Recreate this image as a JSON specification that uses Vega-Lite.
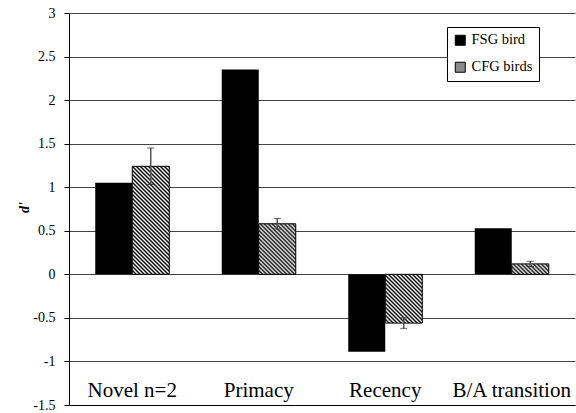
{
"$schema": "https://vega.github.io/schema/vega-lite/v6.json",
"width": 506, "height": 392,
"autosize": {"type": "none"},
"padding": {"left": 69, "top": 13, "right": 1, "bottom": 8},
"background": "#ffffff",
"view": {"stroke": null},
"config": {"font": "Liberation Serif", "text": {"font": "Liberation Serif"}},
"data": {"values": [
{"cond": "Novel n=2", "group": "FSG bird", "d": 1.05},
{"cond": "Novel n=2", "group": "CFG birds", "d": 1.24, "lo": 1.03, "hi": 1.45},
{"cond": "Primacy", "group": "FSG bird", "d": 2.35},
{"cond": "Primacy", "group": "CFG birds", "d": 0.58, "lo": 0.52, "hi": 0.64},
{"cond": "Recency", "group": "FSG bird", "d": -0.89},
{"cond": "Recency", "group": "CFG birds", "d": -0.56, "lo": -0.62, "hi": -0.5},
{"cond": "B/A transition", "group": "FSG bird", "d": 0.53},
{"cond": "B/A transition", "group": "CFG birds", "d": 0.12, "lo": 0.09, "hi": 0.15}
]},
"encoding": {
"x": {"field": "cond", "type": "nominal", "sort": ["Novel n=2", "Primacy", "Recency", "B/A transition"],
 "scale": {"paddingInner": 0.415, "paddingOuter": 0.2075},
 "axis": {"title": null, "orient": "bottom", "ticks": false, "tickSize": 0, "labelPadding": -9, "labelBaseline": "alphabetic", "labelAngle": 0, "labelFont": "Liberation Serif", "labelFontSize": 21, "labelColor": "#000", "domainColor": "#000", "domainWidth": 1}},
"xOffset": {"field": "group", "type": "nominal", "sort": ["FSG bird", "CFG birds"], "scale": {"paddingInner": 0, "paddingOuter": 0}}
},
"layer": [
{"mark": {"type": "bar"},
 "encoding": {
  "y": {"field": "d", "type": "quantitative", "title": "d'", "scale": {"domain": [-1.5, 3], "nice": false, "zero": true},
   "axis": {"title": "d'", "values": [-1.5, -1, -0.5, 0, 0.5, 1, 1.5, 2, 2.5, 3], "labelExpr": "toString(datum.value)", "grid": true, "gridColor": "#444", "gridWidth": 1, "domainColor": "#000", "tickColor": "#000", "tickSize": 5, "labelPadding": 9, "labelFont": "Liberation Serif", "labelFontSize": 14, "labelColor": "#000", "titleFont": "Liberation Serif", "titleFontSize": 14, "titleFontStyle": "italic", "titleFontWeight": "bold", "titleColor": "#000", "titleX": -38, "titleY": 194}},
  "color": {"field": "group", "type": "nominal", "scale": {"domain": ["FSG bird", "CFG birds"], "range": ["#000000", "#8a8a8a"]},
   "legend": {"title": null, "orient": "none", "legendX": 378, "legendY": 14, "strokeColor": "#000", "fillColor": "#fff", "padding": 6, "labelFont": "Liberation Serif", "labelFontSize": 14.5, "labelColor": "#000", "symbolType": "square", "symbolSize": 100, "symbolStrokeColor": "#000", "symbolStrokeWidth": 1, "symbolOpacity": 1, "rowPadding": 11, "labelOffset": 4}}
 }},
{"transform": [{"filter": "datum.cond === 'Novel n=2' && datum.group === 'CFG birds'"}],
 "mark": {"type": "bar", "stroke": "#000", "strokeWidth": 1, "fillOpacity": 1,
  "fill": {"gradient": "linear", "x1": 0, "y1": 1, "x2": 0.45424, "y2": -0.3259, "stops": [{"offset":0,"color":"#000"},{"offset":0.0125,"color":"#fff"},{"offset":0.025,"color":"#000"},{"offset":0.0375,"color":"#fff"},{"offset":0.05,"color":"#000"},{"offset":0.0625,"color":"#fff"},{"offset":0.075,"color":"#000"},{"offset":0.0875,"color":"#fff"},{"offset":0.1,"color":"#000"},{"offset":0.1125,"color":"#fff"},{"offset":0.125,"color":"#000"},{"offset":0.1375,"color":"#fff"},{"offset":0.15,"color":"#000"},{"offset":0.1625,"color":"#fff"},{"offset":0.175,"color":"#000"},{"offset":0.1875,"color":"#fff"},{"offset":0.2,"color":"#000"},{"offset":0.2125,"color":"#fff"},{"offset":0.225,"color":"#000"},{"offset":0.2375,"color":"#fff"},{"offset":0.25,"color":"#000"},{"offset":0.2625,"color":"#fff"},{"offset":0.275,"color":"#000"},{"offset":0.2875,"color":"#fff"},{"offset":0.3,"color":"#000"},{"offset":0.3125,"color":"#fff"},{"offset":0.325,"color":"#000"},{"offset":0.3375,"color":"#fff"},{"offset":0.35,"color":"#000"},{"offset":0.3625,"color":"#fff"},{"offset":0.375,"color":"#000"},{"offset":0.3875,"color":"#fff"},{"offset":0.4,"color":"#000"},{"offset":0.4125,"color":"#fff"},{"offset":0.425,"color":"#000"},{"offset":0.4375,"color":"#fff"},{"offset":0.45,"color":"#000"},{"offset":0.4625,"color":"#fff"},{"offset":0.475,"color":"#000"},{"offset":0.4875,"color":"#fff"},{"offset":0.5,"color":"#000"},{"offset":0.5125,"color":"#fff"},{"offset":0.525,"color":"#000"},{"offset":0.5375,"color":"#fff"},{"offset":0.55,"color":"#000"},{"offset":0.5625,"color":"#fff"},{"offset":0.575,"color":"#000"},{"offset":0.5875,"color":"#fff"},{"offset":0.6,"color":"#000"},{"offset":0.6125,"color":"#fff"},{"offset":0.625,"color":"#000"},{"offset":0.6375,"color":"#fff"},{"offset":0.65,"color":"#000"},{"offset":0.6625,"color":"#fff"},{"offset":0.675,"color":"#000"},{"offset":0.6875,"color":"#fff"},{"offset":0.7,"color":"#000"},{"offset":0.7125,"color":"#fff"},{"offset":0.725,"color":"#000"},{"offset":0.7375,"color":"#fff"},{"offset":0.75,"color":"#000"},{"offset":0.7625,"color":"#fff"},{"offset":0.775,"color":"#000"},{"offset":0.7875,"color":"#fff"},{"offset":0.8,"color":"#000"},{"offset":0.8125,"color":"#fff"},{"offset":0.825,"color":"#000"},{"offset":0.8375,"color":"#fff"},{"offset":0.85,"color":"#000"},{"offset":0.8625,"color":"#fff"},{"offset":0.875,"color":"#000"},{"offset":0.8875,"color":"#fff"},{"offset":0.9,"color":"#000"},{"offset":0.9125,"color":"#fff"},{"offset":0.925,"color":"#000"},{"offset":0.9375,"color":"#fff"},{"offset":0.95,"color":"#000"},{"offset":0.9625,"color":"#fff"},{"offset":0.975,"color":"#000"},{"offset":0.9875,"color":"#fff"},{"offset":1,"color":"#000"}]}},
 "encoding": {"y": {"field": "d", "type": "quantitative", "title": "d'"}}},
{"transform": [{"filter": "datum.cond === 'Primacy' && datum.group === 'CFG birds'"}],
 "mark": {"type": "bar", "stroke": "#000", "strokeWidth": 1, "fillOpacity": 1,
  "fill": {"gradient": "linear", "x1": 0, "y1": 1, "x2": 0.94357, "y2": -0.28836, "stops": [{"offset":0,"color":"#000"},{"offset":0.02,"color":"#fff"},{"offset":0.04,"color":"#000"},{"offset":0.06,"color":"#fff"},{"offset":0.08,"color":"#000"},{"offset":0.1,"color":"#fff"},{"offset":0.12,"color":"#000"},{"offset":0.14,"color":"#fff"},{"offset":0.16,"color":"#000"},{"offset":0.18,"color":"#fff"},{"offset":0.2,"color":"#000"},{"offset":0.22,"color":"#fff"},{"offset":0.24,"color":"#000"},{"offset":0.26,"color":"#fff"},{"offset":0.28,"color":"#000"},{"offset":0.3,"color":"#fff"},{"offset":0.32,"color":"#000"},{"offset":0.34,"color":"#fff"},{"offset":0.36,"color":"#000"},{"offset":0.38,"color":"#fff"},{"offset":0.4,"color":"#000"},{"offset":0.42,"color":"#fff"},{"offset":0.44,"color":"#000"},{"offset":0.46,"color":"#fff"},{"offset":0.48,"color":"#000"},{"offset":0.5,"color":"#fff"},{"offset":0.52,"color":"#000"},{"offset":0.54,"color":"#fff"},{"offset":0.56,"color":"#000"},{"offset":0.58,"color":"#fff"},{"offset":0.6,"color":"#000"},{"offset":0.62,"color":"#fff"},{"offset":0.64,"color":"#000"},{"offset":0.66,"color":"#fff"},{"offset":0.68,"color":"#000"},{"offset":0.7,"color":"#fff"},{"offset":0.72,"color":"#000"},{"offset":0.74,"color":"#fff"},{"offset":0.76,"color":"#000"},{"offset":0.78,"color":"#fff"},{"offset":0.8,"color":"#000"},{"offset":0.82,"color":"#fff"},{"offset":0.84,"color":"#000"},{"offset":0.86,"color":"#fff"},{"offset":0.88,"color":"#000"},{"offset":0.9,"color":"#fff"},{"offset":0.92,"color":"#000"},{"offset":0.94,"color":"#fff"},{"offset":0.96,"color":"#000"},{"offset":0.98,"color":"#fff"},{"offset":1,"color":"#000"}]}},
 "encoding": {"y": {"field": "d", "type": "quantitative", "title": "d'"}}},
{"transform": [{"filter": "datum.cond === 'Recency' && datum.group === 'CFG birds'"}],
 "mark": {"type": "bar", "stroke": "#000", "strokeWidth": 1, "fillOpacity": 1,
  "fill": {"gradient": "linear", "x1": 0, "y1": 1, "x2": 0.98706, "y2": -0.30132, "stops": [{"offset":0,"color":"#000"},{"offset":0.02,"color":"#fff"},{"offset":0.04,"color":"#000"},{"offset":0.06,"color":"#fff"},{"offset":0.08,"color":"#000"},{"offset":0.1,"color":"#fff"},{"offset":0.12,"color":"#000"},{"offset":0.14,"color":"#fff"},{"offset":0.16,"color":"#000"},{"offset":0.18,"color":"#fff"},{"offset":0.2,"color":"#000"},{"offset":0.22,"color":"#fff"},{"offset":0.24,"color":"#000"},{"offset":0.26,"color":"#fff"},{"offset":0.28,"color":"#000"},{"offset":0.3,"color":"#fff"},{"offset":0.32,"color":"#000"},{"offset":0.34,"color":"#fff"},{"offset":0.36,"color":"#000"},{"offset":0.38,"color":"#fff"},{"offset":0.4,"color":"#000"},{"offset":0.42,"color":"#fff"},{"offset":0.44,"color":"#000"},{"offset":0.46,"color":"#fff"},{"offset":0.48,"color":"#000"},{"offset":0.5,"color":"#fff"},{"offset":0.52,"color":"#000"},{"offset":0.54,"color":"#fff"},{"offset":0.56,"color":"#000"},{"offset":0.58,"color":"#fff"},{"offset":0.6,"color":"#000"},{"offset":0.62,"color":"#fff"},{"offset":0.64,"color":"#000"},{"offset":0.66,"color":"#fff"},{"offset":0.68,"color":"#000"},{"offset":0.7,"color":"#fff"},{"offset":0.72,"color":"#000"},{"offset":0.74,"color":"#fff"},{"offset":0.76,"color":"#000"},{"offset":0.78,"color":"#fff"},{"offset":0.8,"color":"#000"},{"offset":0.82,"color":"#fff"},{"offset":0.84,"color":"#000"},{"offset":0.86,"color":"#fff"},{"offset":0.88,"color":"#000"},{"offset":0.9,"color":"#fff"},{"offset":0.92,"color":"#000"},{"offset":0.94,"color":"#fff"},{"offset":0.96,"color":"#000"},{"offset":0.98,"color":"#fff"},{"offset":1,"color":"#000"}]}},
 "encoding": {"y": {"field": "d", "type": "quantitative", "title": "d'"}}},
{"transform": [{"filter": "datum.cond === 'B/A transition' && datum.group === 'CFG birds'"}],
 "mark": {"type": "bar", "stroke": "#000", "strokeWidth": 1, "fillOpacity": 1,
  "fill": {"gradient": "linear", "x1": 0, "y1": 1, "x2": 1.25153, "y2": 0.64653, "stops": [{"offset":0,"color":"#000"},{"offset":0.04,"color":"#fff"},{"offset":0.08,"color":"#000"},{"offset":0.12,"color":"#fff"},{"offset":0.16,"color":"#000"},{"offset":0.2,"color":"#fff"},{"offset":0.24,"color":"#000"},{"offset":0.28,"color":"#fff"},{"offset":0.32,"color":"#000"},{"offset":0.36,"color":"#fff"},{"offset":0.4,"color":"#000"},{"offset":0.44,"color":"#fff"},{"offset":0.48,"color":"#000"},{"offset":0.52,"color":"#fff"},{"offset":0.56,"color":"#000"},{"offset":0.6,"color":"#fff"},{"offset":0.64,"color":"#000"},{"offset":0.68,"color":"#fff"},{"offset":0.72,"color":"#000"},{"offset":0.76,"color":"#fff"},{"offset":0.8,"color":"#000"},{"offset":0.84,"color":"#fff"},{"offset":0.88,"color":"#000"},{"offset":0.92,"color":"#fff"},{"offset":0.96,"color":"#000"},{"offset":1,"color":"#fff"}]}},
 "encoding": {"y": {"field": "d", "type": "quantitative", "title": "d'"}}},
{"transform": [{"filter": "datum.group === 'CFG birds'"}],
 "mark": {"type": "rule", "color": "#555", "strokeWidth": 1.5},
 "encoding": {"y": {"field": "lo", "type": "quantitative", "title": "d'"}, "y2": {"field": "hi"}}},
{"transform": [{"filter": "datum.group === 'CFG birds'"}],
 "mark": {"type": "tick", "color": "#222", "size": 7, "thickness": 1, "orient": "horizontal"},
 "encoding": {"y": {"field": "lo", "type": "quantitative", "title": "d'"}}},
{"transform": [{"filter": "datum.group === 'CFG birds'"}],
 "mark": {"type": "tick", "color": "#222", "size": 7, "thickness": 1, "orient": "horizontal"},
 "encoding": {"y": {"field": "hi", "type": "quantitative", "title": "d'"}}}
]
}
